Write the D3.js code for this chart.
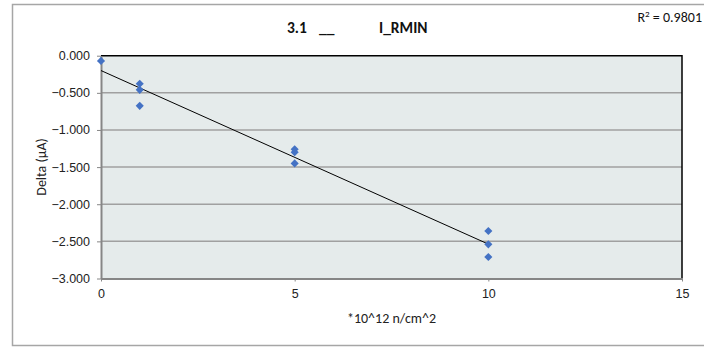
<!DOCTYPE html>
<html>
<head>
<meta charset="utf-8">
<script src="https://cdn.jsdelivr.net/npm/d3@7"></script>
<style>
body { margin: 0; background: #fff; }
svg { display: block; font-family: Carlito, Lato, "Open Sans", sans-serif; }
</style>
</head>
<body>
<svg></svg>
<script>
// data
const fluence = [0, 1, 1, 1, 5, 5, 5, 10, 10, 10]
const delta = [-0.07, -0.378, -0.46, -0.675, -1.26, -1.30, -1.45, -2.36, -2.54, -2.71]
const trendIntercept = -0.20
const trendSlope = -0.2337
const trendRange = [0, 10]
const rSquared = "0.9801"
const titleParts = ["3.1", "__", "I_RMIN"]
const yTicks = [0, -0.5, -1, -1.5, -2, -2.5, -3]
const xTicks = [0, 5, 10, 15]

const svg = d3.select("svg")
	.attr("width", 704)
	.attr("height", 347)

// chart border
svg.append("rect")
	.attr("x", 12.5).attr("y", 4.5)
	.attr("width", 720).attr("height", 341)
	.attr("fill", "#fff")
	.attr("stroke", "#a6a6a6")
	.attr("stroke-width", 1.5)

const pLeft = 101, pRight = 682, pTop = 55.7, pBottom = 278.5

const x = d3.scaleLinear().domain([0, 15]).range([pLeft, pRight])
const y = d3.scaleLinear().domain([-3, 0]).range([pBottom, pTop])

// plot area
svg.append("rect")
	.attr("x", pLeft).attr("y", pTop)
	.attr("width", pRight - pLeft).attr("height", pBottom - pTop)
	.attr("fill", "#e5ebeb")

// gridlines
svg.append("g")
	.selectAll("line")
	.data(yTicks.filter(d => d < 0 && d > -3))
	.enter()
	.append("line")
	.attr("x1", pLeft).attr("x2", pRight)
	.attr("y1", d => y(d)).attr("y2", d => y(d))
	.attr("stroke", "#a0a0a0")
	.attr("stroke-width", 1.5)

// top and right border of plot
svg.append("path")
	.attr("d", `M${pLeft},${pTop}H${pRight}V${pBottom}`)
	.attr("fill", "none")
	.attr("stroke", "#000")
	.attr("stroke-width", 1.5)

// y axis
const yAxis = svg.append("g")
	.attr("transform", `translate(${pLeft},0)`)
	.call(d3.axisLeft(y).tickValues(yTicks).tickFormat(d3.format(".3f")).tickSize(4).tickSizeOuter(0))
yAxis.select(".domain").attr("stroke", "#868686").attr("stroke-width", 2)
yAxis.selectAll(".tick line").attr("stroke", "#868686")
yAxis.selectAll("text")
	.attr("x", -11)
	.style("font-size", "12.5px")
	.attr("fill", "#222")

// x axis
const xAxis = svg.append("g")
	.attr("transform", `translate(0,${pBottom})`)
	.call(d3.axisBottom(x).tickValues(xTicks).tickSize(3).tickSizeOuter(0))
xAxis.select(".domain").attr("stroke", "#868686").attr("stroke-width", 2)
xAxis.selectAll(".tick line").attr("stroke", "#868686")
xAxis.selectAll("text")
	.attr("y", 11)
	.style("font-size", "12.5px")
	.attr("fill", "#222")

// trend line
const trend = d3.line()
	.x(d => x(d))
	.y(d => y(trendIntercept + trendSlope * d))
svg.append("path")
	.datum(trendRange)
	.attr("d", trend)
	.attr("fill", "none")
	.attr("stroke", "#000")
	.attr("stroke-width", 1)

// points
svg.append("g")
	.selectAll("path")
	.data(fluence)
	.enter()
	.append("path")
	.attr("d", d3.symbol().type(d3.symbolDiamond2).size(42))
	.attr("transform", (d, i) => `translate(${x(d)},${y(delta[i])})`)
	.attr("fill", "#4472c4")

// title, three pieces spaced as in the original
const titleX = [287, 319, 379]
svg.append("g")
	.selectAll("text")
	.data(titleParts)
	.enter()
	.append("text")
	.attr("x", (d, i) => titleX[i]).attr("y", 33)
	.style("font-size", "15.5px")
	.style("font-weight", "bold")
	.attr("fill", "#111")
	.text(d => d)

const r2 = svg.append("text")
	.attr("x", 702).attr("y", 22)
	.attr("text-anchor", "end")
	.style("font-size", "14px")
	.attr("fill", "#111")
r2.append("tspan").text("R")
r2.append("tspan").attr("dy", -5).style("font-size", "9px").text("2")
r2.append("tspan").attr("dy", 5).text(" = " + rSquared)

svg.append("text")
	.attr("transform", "translate(46,167) rotate(-90)")
	.attr("text-anchor", "middle")
	.style("font-size", "14px")
	.attr("fill", "#222")
	.text("Delta (µA)")

svg.append("text")
	.attr("x", (pLeft + pRight) / 2).attr("y", 323)
	.attr("text-anchor", "middle")
	.style("font-size", "14px")
	.attr("fill", "#222")
	.text("*10^12 n/cm^2")
</script>
</body>
</html>
